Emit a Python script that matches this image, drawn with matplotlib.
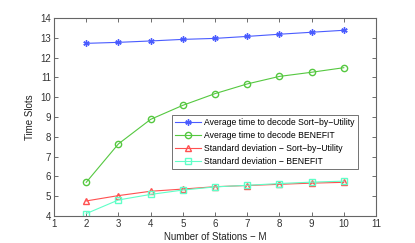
import numpy as np
import matplotlib
matplotlib.use("Agg")
from matplotlib import pyplot as plt

plt.rcParams['font.family'] = ['Liberation Sans', 'DejaVu Sans']

stations = [2, 3, 4, 5, 6, 7, 8, 9, 10]
avg_sbu = [12.72, 12.77, 12.84, 12.92, 12.97, 13.07, 13.18, 13.28, 13.38]
avg_benefit = [5.70, 7.64, 8.88, 9.59, 10.18, 10.67, 11.05, 11.26, 11.49]
std_sbu = [4.76, 5.03, 5.25, 5.36, 5.48, 5.54, 5.60, 5.66, 5.70]
std_benefit = [4.12, 4.81, 5.09, 5.31, 5.47, 5.55, 5.64, 5.71, 5.76]

labels = ['Average time to decode Sort\u2212by\u2212Utility',
          'Average time to decode BENEFIT',
          'Standard deviation \u2212 Sort\u2212by\u2212Utility',
          'Standard deviation \u2212 BENEFIT']

fig = plt.figure(figsize=(4.15, 2.43), dpi=100)
ax = fig.add_axes([54/415, 1-216/243, (376-54)/415, (216-18)/243])

lw = 0.8
ms = 4.5
ax.plot(stations, avg_sbu, '-', marker=(6, 2, 0), color='#4a5cff', lw=lw, ms=ms,
        mew=1.0, label=labels[0])
ax.plot(stations, avg_benefit, '-o', color='#55c840', lw=lw, ms=ms, mfc='none', label=labels[1])
ax.plot(stations, std_sbu, '-^', color='#ff5050', lw=lw, ms=ms, mfc='none', label=labels[2])
ax.plot(stations, std_benefit, '-s', color='#60ffc8', lw=lw, ms=ms-0.7, mfc='none', label=labels[3])

ax.set_xlim(1, 11)
ax.set_ylim(4, 14)
ax.set_xticks(range(1, 12))
ax.set_yticks(range(4, 15))
ax.tick_params(direction='in', top=True, right=True, labelsize=7, length=3,
               width=0.5, colors='#333333', pad=2)
for s in ax.spines.values():
    s.set_color('#666666')
    s.set_linewidth(0.8)

ax.set_xlabel('Number of Stations \u2212 M', fontsize=7, labelpad=2, color='#222222')
ax.set_ylabel('Time Slots', fontsize=7, labelpad=4, color='#222222')

leg = ax.legend(loc='upper left', bbox_to_anchor=((172-54)/322, 1-(115-18)/198),
                fontsize=6.2, fancybox=False, edgecolor='#333333',
                handlelength=3.0, borderpad=0.35, labelspacing=0.45,
                handletextpad=0.4, borderaxespad=0)
leg.get_frame().set_linewidth(0.6)

fig.savefig('out.png', dpi=100)
